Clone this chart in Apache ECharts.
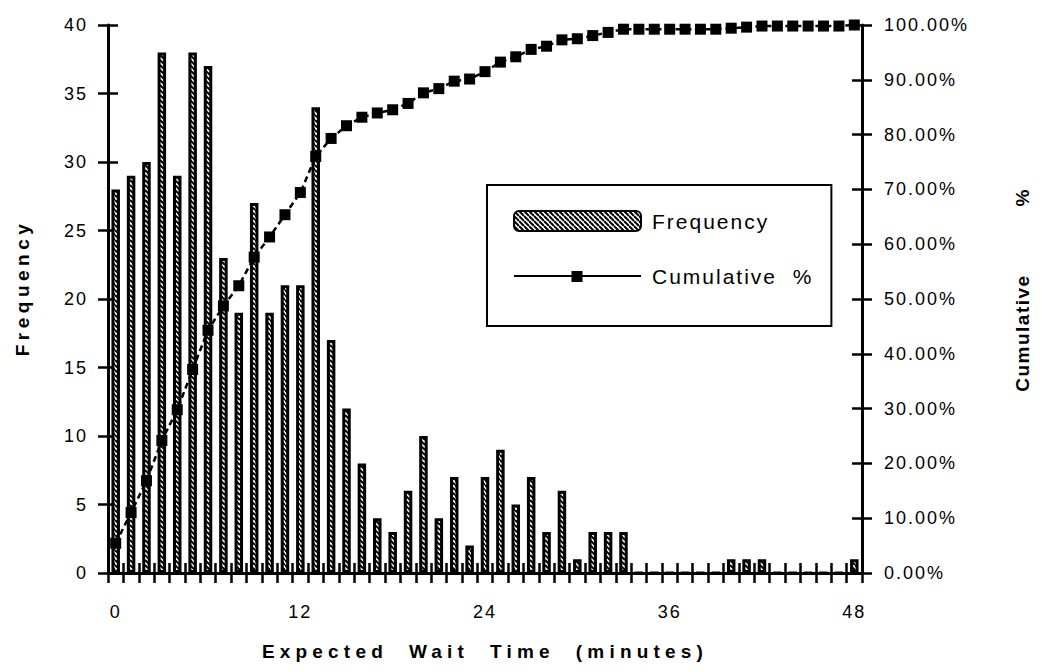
<!DOCTYPE html>
<html><head><meta charset="utf-8">
<script src="https://cdn.jsdelivr.net/npm/echarts@6/dist/echarts.min.js"></script>
<style>
html,body{margin:0;padding:0;background:#fff;}
#chart{width:1042px;height:672px;}
#chart text{letter-spacing:2px;white-space:pre;}
</style></head><body><div id="chart"></div>
<script>
// ---- data ----
const categories = ['0','1','2','3','4','5','6','7','8','9','10','11','12','13','14','15','16','17','18','19','20','21','22','23','24','25','26','27','28','29','30','31','32','33','34','35','36','37','38','39','40','41','42','43','44','45','46','47','48'];
const frequency = [28,29,30,38,29,38,37,23,19,27,19,21,21,34,17,12,8,4,3,6,10,4,7,2,7,9,5,7,3,6,1,3,3,3,0,0,0,0,0,0,1,1,1,0,0,0,0,0,1];
const cumulativePct = [5.42,11.03,16.83,24.18,29.79,37.14,44.29,48.74,52.42,57.64,61.32,65.38,69.44,76.02,79.30,81.62,83.17,83.95,84.53,85.69,87.62,88.39,89.75,90.14,91.49,93.23,94.20,95.55,96.13,97.29,97.49,98.07,98.65,99.23,99.23,99.23,99.23,99.23,99.23,99.23,99.42,99.61,99.81,99.81,99.81,99.81,99.81,99.81,100];
const pctTickLabels = ['0.00%','10.00%','20.00%','30.00%','40.00%','50.00%','60.00%','70.00%','80.00%','90.00%','100.00%'];
const seriesNames = ['Frequency','Cumulative %'];
const xTitle = 'Expected  Wait  Time  (minutes)';
const yTitle = 'Frequency';
const y2Title = 'Cumulative          %';

// hatch pattern for bars
const pc = document.createElement('canvas');
pc.width = 5; pc.height = 5;
const g = pc.getContext('2d');
g.fillStyle = '#fff'; g.fillRect(0,0,5,5);
g.strokeStyle = '#000'; g.lineWidth = 2;
for (let k=-1;k<=1;k++){ g.beginPath(); g.moveTo(0,k*5); g.lineTo(5,5+k*5); g.stroke(); }
const hatch = {image: pc.toDataURL(), repeat:'repeat', imageWidth:5, imageHeight:5};

const FONT = 'Liberation Sans';
const labelStyle = {fontFamily:FONT, fontSize:18, color:'#000'};
const titleStyle = {fontFamily:FONT, fontSize:19, fontWeight:'bold', color:'#000'};
const titleFont = 'bold 19px "Liberation Sans"';
const blk = {color:'#000', width:3};
const tk = {color:'#000', width:2.5};
const boldSpacing = {};
boldSpacing[xTitle] = 5.2; boldSpacing[yTitle] = 4.5; boldSpacing[y2Title] = 1.5;

const chart = echarts.init(document.getElementById('chart'), null, {renderer:'svg'});
function tweak(){
  document.querySelectorAll('#chart text').forEach(t=>{
    const st = t.getAttribute('style') || '';
    t.style.whiteSpace = 'pre';
    if (st.indexOf('bold') >= 0) {
      const s = t.textContent;
      t.style.letterSpacing = (boldSpacing[s] !== undefined ? boldSpacing[s] : 4) + 'px';
    } else {
      t.style.letterSpacing = '2px';
    }
  });
}
chart.on('finished', tweak);
chart.setOption({
  animation:false,
  backgroundColor:'#fff',
  grid:{left:108, right:180, top:25, bottom:99},
  legend:{
    orient:'vertical', left:487, top:185,
    itemWidth:127, itemHeight:20, itemGap:34,
    padding:[25,44,39,26],
    borderColor:'#000', borderWidth:2, backgroundColor:'#fff',
    textStyle:{fontFamily:FONT, fontSize:21, color:'#000', padding:[0,0,0,6]},
    formatter:(n)=>n.replace(' ', '  '),
    data:[{name:seriesNames[0]},{name:seriesNames[1], icon:'path://M0,4.1H127V5.9H0Z M57.5,0H68.5V11H57.5Z'}]
  },
  graphic:[
    {type:'text', x:22, y:288, rotation:Math.PI/2, silent:true,
     style:{text:yTitle, font:titleFont, fill:'#000', align:'center', verticalAlign:'middle'}},
    {type:'text', x:1022, y:290, rotation:Math.PI/2, silent:true,
     style:{text:y2Title, font:titleFont, fill:'#000', align:'center', verticalAlign:'middle'}}
  ],
  xAxis:[
    {type:'category', data:categories, position:'bottom', boundaryGap:true,
     axisLine:{lineStyle:blk},
     axisTick:{show:true, interval:0, length:10, lineStyle:tk},
     axisLabel:Object.assign({interval:11, margin:30}, labelStyle),
     splitLine:{show:false},
     name:xTitle, nameLocation:'middle', nameGap:69,
     nameTextStyle:titleStyle},
    {type:'category', data:categories, position:'bottom', boundaryGap:true,
     axisLine:{show:false},
     axisTick:{show:true, inside:true, interval:0, length:10, lineStyle:tk},
     axisLabel:{show:false}, splitLine:{show:false}}
  ],
  yAxis:[
    {type:'value', position:'left', min:0, max:40, interval:5,
     axisLine:{show:true, lineStyle:blk},
     axisTick:{show:true, length:10, lineStyle:tk},
     axisLabel:Object.assign({margin:20}, labelStyle),
     splitLine:{show:false}},
    {type:'value', position:'right', min:0, max:100, interval:10,
     axisLine:{show:true, lineStyle:blk},
     axisTick:{show:true, length:10, lineStyle:tk},
     axisLabel:Object.assign({margin:22, formatter:(v)=>pctTickLabels[Math.round(v/10)]}, labelStyle),
     splitLine:{show:false}},
    {type:'value', position:'left', min:0, max:40, interval:5,
     axisLine:{show:false}, axisTick:{show:true, inside:true, length:10, lineStyle:tk},
     axisLabel:{show:false}, splitLine:{show:false}},
    {type:'value', position:'right', min:0, max:100, interval:10,
     axisLine:{show:false}, axisTick:{show:true, inside:true, length:10, lineStyle:tk},
     axisLabel:{show:false}, splitLine:{show:false}}
  ],
  series:[
    {type:'bar', name:seriesNames[0], data:frequency, xAxisIndex:0, yAxisIndex:0,
     barWidth:8.5, itemStyle:{color:hatch, borderColor:'#000', borderWidth:3}},
    {type:'line', name:seriesNames[1], data:cumulativePct, xAxisIndex:0, yAxisIndex:1,
     symbol:'rect', symbolSize:11, showAllSymbol:true, z:5,
     itemStyle:{color:'#000'}, lineStyle:{color:'#000', width:2.5, type:[6,4]}}
  ]
});
setTimeout(tweak, 50);
</script></body></html>
